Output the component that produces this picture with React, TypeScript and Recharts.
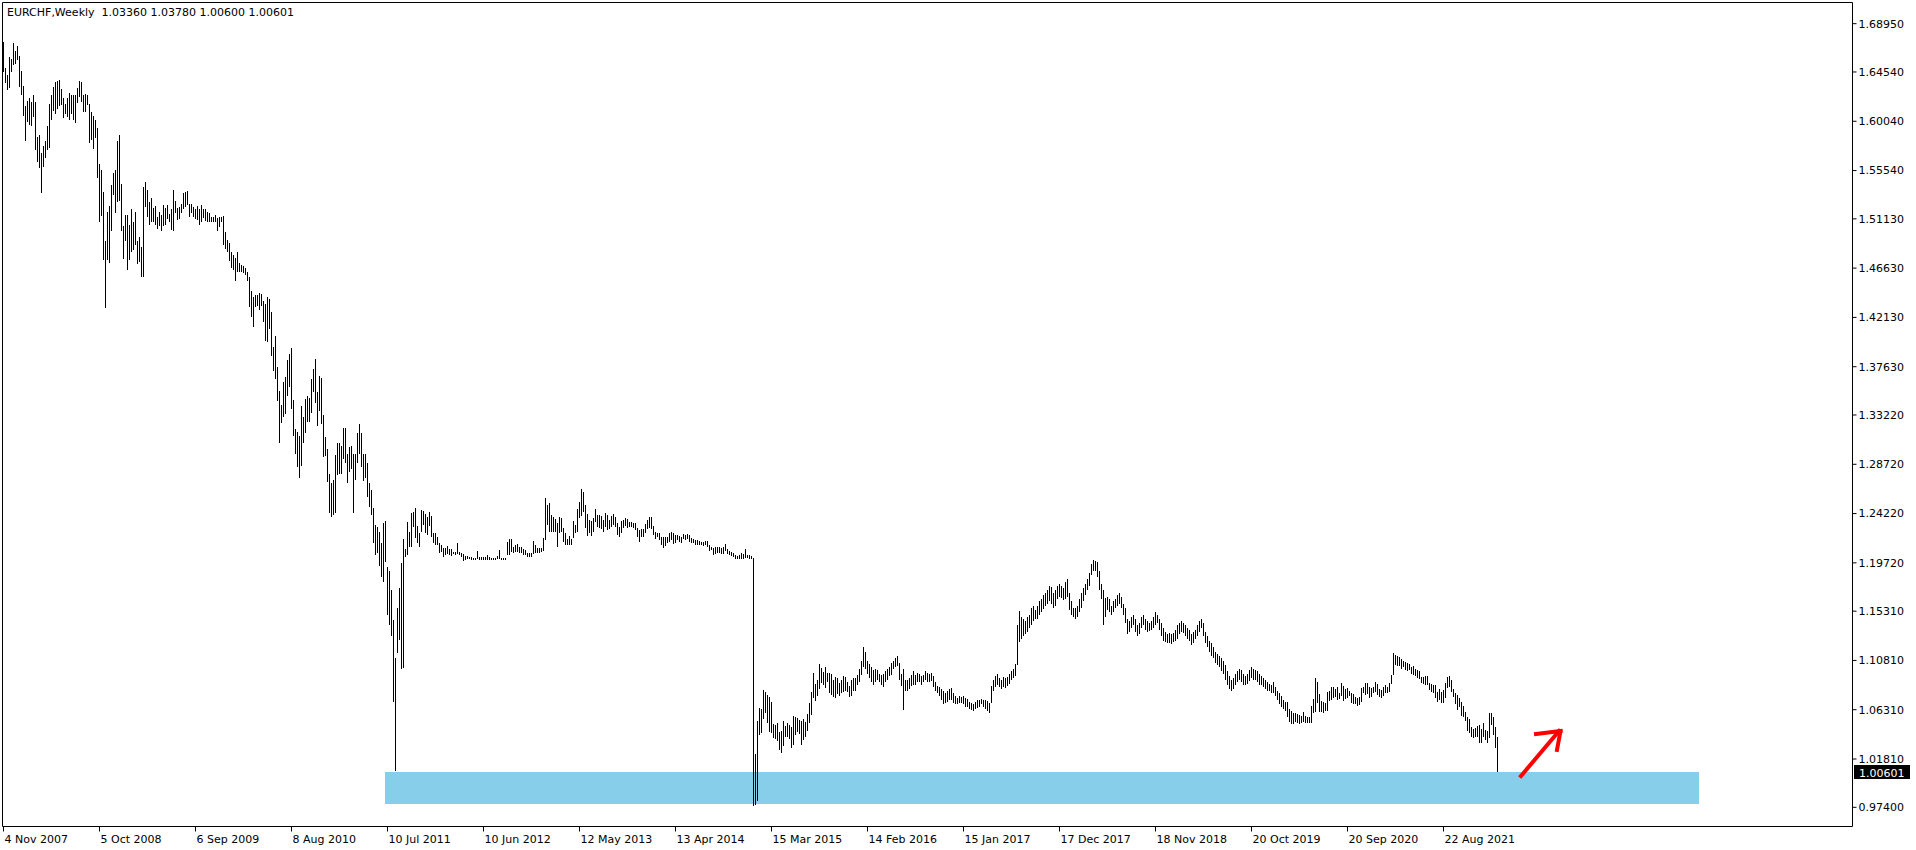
import React from "react";
import { ComposedChart, Bar, XAxis, YAxis, ReferenceArea, ReferenceLine } from "recharts";

document.body.style.margin = "0";

const FONT = "DejaVu Sans";
const W = 1916;
const H = 850;

// weekly bars as [high, low]; one array per calendar year (MT4 weeks open on Sunday)
const bars2007 = [[1.673,1.645],[1.649,1.635],[1.643,1.629],[1.659,1.631],[1.657,1.645],[1.672,1.652],[1.665,1.653],[1.669,1.656],[1.660,1.632]];
const bars2008 = [[1.646,1.624],[1.633,1.605],[1.614,1.582],[1.619,1.600],[1.622,1.597],[1.618,1.596],[1.624,1.604],[1.618,1.574],[1.586,1.563],[1.588,1.558],[1.571,1.535],[1.578,1.559],[1.582,1.567],[1.596,1.574],[1.616,1.576],[1.624,1.602],[1.632,1.610],[1.636,1.607],[1.637,1.612],[1.638,1.614],[1.630,1.615],[1.622,1.603],[1.616,1.607],[1.622,1.604],[1.626,1.602],[1.624,1.607],[1.624,1.602],[1.624,1.599],[1.631,1.617],[1.637,1.623],[1.636,1.618],[1.624,1.609],[1.625,1.609],[1.624,1.615],[1.616,1.581],[1.609,1.583],[1.605,1.575],[1.602,1.585],[1.594,1.549],[1.561,1.508],[1.556,1.514],[1.536,1.474],[1.491,1.430],[1.518,1.474],[1.523,1.471],[1.542,1.500],[1.553,1.533],[1.556,1.517],[1.582,1.527],[1.588,1.528],[1.543,1.500],[1.505,1.475]];
const bars2009 = [[1.515,1.491],[1.515,1.465],[1.506,1.474],[1.520,1.481],[1.508,1.483],[1.518,1.487],[1.491,1.470],[1.495,1.472],[1.486,1.458],[1.540,1.458],[1.545,1.522],[1.538,1.513],[1.527,1.506],[1.530,1.508],[1.521,1.508],[1.523,1.506],[1.513,1.502],[1.518,1.505],[1.515,1.500],[1.524,1.505],[1.521,1.506],[1.524,1.511],[1.516,1.508],[1.520,1.501],[1.538,1.500],[1.528,1.517],[1.521,1.510],[1.522,1.511],[1.525,1.517],[1.535,1.520],[1.536,1.522],[1.537,1.524],[1.525,1.513],[1.525,1.517],[1.522,1.513],[1.520,1.511],[1.523,1.510],[1.520,1.506],[1.524,1.508],[1.520,1.512],[1.520,1.509],[1.518,1.508],[1.517,1.508],[1.513,1.508],[1.513,1.508],[1.515,1.508],[1.512,1.500],[1.513,1.504],[1.513,1.508],[1.514,1.487],[1.499,1.484],[1.492,1.481]];
const bars2010 = [[1.489,1.473],[1.481,1.466],[1.478,1.465],[1.476,1.455],[1.481,1.463],[1.471,1.463],[1.469,1.463],[1.468,1.462],[1.466,1.460],[1.463,1.455],[1.458,1.431],[1.445,1.422],[1.440,1.413],[1.442,1.431],[1.442,1.432],[1.444,1.428],[1.443,1.432],[1.436,1.417],[1.434,1.400],[1.440,1.399],[1.438,1.411],[1.426,1.386],[1.394,1.372],[1.404,1.365],[1.376,1.345],[1.354,1.307],[1.341,1.325],[1.362,1.330],[1.367,1.333],[1.382,1.350],[1.388,1.358],[1.393,1.338],[1.346,1.313],[1.319,1.297],[1.317,1.285],[1.313,1.275],[1.340,1.286],[1.330,1.307],[1.347,1.316],[1.350,1.326],[1.348,1.326],[1.365,1.334],[1.374,1.353],[1.383,1.343],[1.353,1.322],[1.368,1.336],[1.366,1.324],[1.332,1.294],[1.312,1.295],[1.301,1.271],[1.278,1.243],[1.270,1.239]];
const bars2011 = [[1.273,1.241],[1.296,1.243],[1.307,1.277],[1.307,1.278],[1.304,1.278],[1.320,1.292],[1.320,1.288],[1.297,1.270],[1.303,1.280],[1.304,1.283],[1.297,1.243],[1.297,1.273],[1.316,1.288],[1.324,1.297],[1.316,1.285],[1.297,1.272],[1.297,1.275],[1.288,1.257],[1.270,1.248],[1.264,1.241],[1.247,1.215],[1.232,1.204],[1.230,1.206],[1.225,1.194],[1.215,1.184],[1.234,1.180],[1.235,1.198],[1.193,1.150],[1.190,1.140],[1.172,1.130],[1.145,1.070],[1.110,1.0075],[1.156,1.115],[1.174,1.127],[1.197,1.100],[1.219,1.101],[1.2096,1.2023],[1.2345,1.2044],[1.2254,1.2120],[1.2424,1.2120],[1.2440,1.2303],[1.2470,1.2196],[1.2309,1.2157],[1.2248,1.2120],[1.2455,1.2257],[1.2449,1.2318],[1.2418,1.2242],[1.2394,1.2227],[1.2440,1.2309],[1.2400,1.2206],[1.2248,1.2151],[1.2242,1.2136]];
const bars2012 = [[1.2206,1.2136],[1.2157,1.2060],[1.2136,1.2075],[1.2111,1.2029],[1.2105,1.2044],[1.2126,1.2053],[1.2102,1.2044],[1.2102,1.2035],[1.2075,1.2053],[1.2075,1.2044],[1.2157,1.2053],[1.2075,1.2044],[1.2066,1.2029],[1.2053,1.1993],[1.2035,1.1999],[1.2035,1.2005],[1.2029,1.2005],[1.2023,1.1999],[1.2020,1.1999],[1.2020,1.1999],[1.2081,1.2005],[1.2029,1.1999],[1.2023,1.1999],[1.2029,1.1999],[1.2023,1.1999],[1.2044,1.1999],[1.2023,1.1999],[1.2014,1.1999],[1.2014,1.1999],[1.2014,1.1999],[1.2035,1.2005],[1.2090,1.2005],[1.2017,1.1999],[1.2017,1.1999],[1.2017,1.1999],[1.2166,1.2044],[1.2187,1.2044],[1.2190,1.2075],[1.2120,1.2066],[1.2136,1.2075],[1.2145,1.2075],[1.2114,1.2066],[1.2114,1.2066],[1.2096,1.2044],[1.2090,1.2044],[1.2066,1.2029],[1.2066,1.2029],[1.2066,1.2029],[1.2172,1.2050],[1.2136,1.2066],[1.2105,1.2066],[1.2105,1.2066],[1.2105,1.2075]];
const bars2013 = [[1.2196,1.2084],[1.2560,1.2181],[1.2500,1.2318],[1.2516,1.2257],[1.2409,1.2257],[1.2394,1.2257],[1.2370,1.2257],[1.2339,1.2114],[1.2388,1.2242],[1.2379,1.2257],[1.2288,1.2166],[1.2248,1.2136],[1.2187,1.2136],[1.2218,1.2136],[1.2187,1.2136],[1.2354,1.2196],[1.2318,1.2242],[1.2461,1.2257],[1.2531,1.2379],[1.2650,1.2400],[1.2620,1.2440],[1.2500,1.2288],[1.2418,1.2218],[1.2364,1.2242],[1.2358,1.2218],[1.2379,1.2257],[1.2461,1.2348],[1.2409,1.2303],[1.2409,1.2288],[1.2400,1.2279],[1.2364,1.2257],[1.2430,1.2297],[1.2409,1.2272],[1.2364,1.2279],[1.2400,1.2303],[1.2418,1.2318],[1.2394,1.2303],[1.2333,1.2227],[1.2297,1.2212],[1.2358,1.2248],[1.2364,1.2288],[1.2379,1.2309],[1.2370,1.2288],[1.2348,1.2303],[1.2348,1.2303],[1.2339,1.2288],[1.2333,1.2272],[1.2294,1.2206],[1.2272,1.2166],[1.2279,1.2212],[1.2279,1.2206],[1.2327,1.2242]];
const bars2014 = [[1.2364,1.2279],[1.2388,1.2288],[1.2388,1.2279],[1.2309,1.2227],[1.2257,1.2187],[1.2242,1.2206],[1.2242,1.2181],[1.2212,1.2136],[1.2206,1.2105],[1.2206,1.2126],[1.2206,1.2151],[1.2242,1.2166],[1.2257,1.2181],[1.2242,1.2145],[1.2227,1.2151],[1.2227,1.2181],[1.2218,1.2166],[1.2206,1.2157],[1.2236,1.2187],[1.2227,1.2181],[1.2236,1.2187],[1.2227,1.2166],[1.2196,1.2157],[1.2187,1.2151],[1.2181,1.2136],[1.2181,1.2136],[1.2175,1.2136],[1.2166,1.2136],[1.2166,1.2126],[1.2175,1.2136],[1.2175,1.2120],[1.2136,1.2084],[1.2120,1.2090],[1.2105,1.2044],[1.2114,1.2053],[1.2120,1.2066],[1.2120,1.2060],[1.2105,1.2053],[1.2114,1.2053],[1.2145,1.2084],[1.2096,1.2053],[1.2084,1.2044],[1.2075,1.2035],[1.2066,1.2029],[1.2044,1.2005],[1.2035,1.2005],[1.2044,1.2005],[1.2060,1.2005],[1.2053,1.2005],[1.2096,1.2014],[1.2044,1.2014],[1.2044,1.2005]];
const bars2015 = [[1.2035,1.2005],[1.2014,0.9749],[1.0228,0.9763],[1.0532,0.9794],[1.0645,1.0402],[1.0636,1.0417],[1.0812,1.0544],[1.0797,1.0599],[1.0766,1.0514],[1.0745,1.0423],[1.0706,1.0417],[1.0502,1.0371],[1.0493,1.0362],[1.0508,1.0341],[1.0432,1.0259],[1.0441,1.0234],[1.0532,1.0301],[1.0484,1.0386],[1.0514,1.0386],[1.0493,1.0362],[1.0472,1.0280],[1.0575,1.0310],[1.0563,1.0402],[1.0551,1.0423],[1.0538,1.0411],[1.0532,1.0310],[1.0545,1.0356],[1.0523,1.0386],[1.0593,1.0441],[1.0696,1.0514],[1.0797,1.0584],[1.0970,1.0736],[1.0867,1.0715],[1.0903,1.0757],[1.1049,1.0818],[1.1010,1.0879],[1.0979,1.0858],[1.1019,1.0827],[1.0970,1.0888],[1.0964,1.0782],[1.0958,1.0766],[1.0903,1.0751],[1.0934,1.0736],[1.0918,1.0776],[1.0879,1.0757],[1.0903,1.0782],[1.0940,1.0797],[1.0934,1.0806],[1.0888,1.0797],[1.0848,1.0751],[1.0900,1.0760],[1.0920,1.0800]];
const bars2016 = [[1.0920,1.0800],[1.0950,1.0860],[1.1000,1.0880],[1.1080,1.0950],[1.1200,1.1020],[1.1160,1.1000],[1.1080,1.0960],[1.1050,1.0920],[1.1020,1.0880],[1.0990,1.0860],[1.1000,1.0880],[1.0990,1.0900],[1.0960,1.0880],[1.0950,1.0860],[1.0960,1.0840],[1.0980,1.0880],[1.1000,1.0900],[1.1020,1.0940],[1.1060,1.0950],[1.1080,1.1000],[1.1100,1.1020],[1.1120,1.1030],[1.1060,1.0900],[1.0960,1.0850],[1.1000,1.0630],[1.0900,1.0800],[1.0900,1.0800],[1.0920,1.0820],[1.0950,1.0850],[1.0980,1.0860],[1.0950,1.0860],[1.0970,1.0880],[1.0960,1.0880],[1.0940,1.0860],[1.0950,1.0880],[1.0980,1.0900],[1.0970,1.0880],[1.0960,1.0880],[1.0970,1.0890],[1.0940,1.0840],[1.0880,1.0800],[1.0850,1.0780],[1.0840,1.0760],[1.0820,1.0720],[1.0800,1.0680],[1.0780,1.0690],[1.0800,1.0700],[1.0820,1.0720],[1.0830,1.0720],[1.0780,1.0690],[1.0760,1.0680],[1.0740,1.0680]];
const bars2017 = [[1.0760,1.0690],[1.0750,1.0690],[1.0760,1.0680],[1.0740,1.0660],[1.0730,1.0660],[1.0700,1.0640],[1.0690,1.0630],[1.0680,1.0620],[1.0700,1.0640],[1.0720,1.0650],[1.0720,1.0660],[1.0730,1.0680],[1.0720,1.0660],[1.0720,1.0640],[1.0710,1.0620],[1.0690,1.0600],[1.0850,1.0690],[1.0900,1.0800],[1.0940,1.0840],[1.0960,1.0860],[1.0920,1.0840],[1.0900,1.0820],[1.0930,1.0840],[1.0920,1.0830],[1.0930,1.0850],[1.0960,1.0870],[1.0980,1.0900],[1.1000,1.0920],[1.1050,1.0940],[1.1400,1.1040],[1.1530,1.1250],[1.1480,1.1280],[1.1460,1.1300],[1.1440,1.1320],[1.1480,1.1340],[1.1500,1.1380],[1.1560,1.1400],[1.1580,1.1440],[1.1540,1.1460],[1.1580,1.1460],[1.1620,1.1500],[1.1640,1.1520],[1.1680,1.1550],[1.1700,1.1580],[1.1720,1.1600],[1.1760,1.1620],[1.1750,1.1600],[1.1700,1.1560],[1.1720,1.1580],[1.1760,1.1640],[1.1780,1.1660],[1.1760,1.1650],[1.1740,1.1630]];
const bars2018 = [[1.1800,1.1640],[1.1820,1.1660],[1.1700,1.1540],[1.1620,1.1500],[1.1560,1.1480],[1.1560,1.1460],[1.1580,1.1480],[1.1640,1.1520],[1.1700,1.1560],[1.1740,1.1620],[1.1780,1.1680],[1.1820,1.1720],[1.1880,1.1760],[1.1960,1.1860],[1.2000,1.1900],[1.1990,1.1900],[1.1980,1.1840],[1.1900,1.1720],[1.1780,1.1640],[1.1720,1.1400],[1.1650,1.1480],[1.1660,1.1540],[1.1640,1.1520],[1.1580,1.1500],[1.1620,1.1520],[1.1640,1.1560],[1.1680,1.1580],[1.1700,1.1600],[1.1660,1.1560],[1.1600,1.1500],[1.1560,1.1420],[1.1460,1.1320],[1.1440,1.1340],[1.1480,1.1380],[1.1500,1.1400],[1.1460,1.1340],[1.1400,1.1300],[1.1420,1.1320],[1.1480,1.1380],[1.1500,1.1400],[1.1460,1.1360],[1.1440,1.1340],[1.1420,1.1350],[1.1440,1.1360],[1.1480,1.1380],[1.1520,1.1400],[1.1500,1.1420],[1.1460,1.1360],[1.1420,1.1300],[1.1380,1.1260],[1.1340,1.1250],[1.1320,1.1240]];
const bars2019 = [[1.1330,1.1240],[1.1320,1.1230],[1.1330,1.1250],[1.1360,1.1260],[1.1400,1.1280],[1.1420,1.1320],[1.1440,1.1340],[1.1420,1.1330],[1.1400,1.1300],[1.1380,1.1280],[1.1360,1.1260],[1.1320,1.1220],[1.1340,1.1240],[1.1360,1.1280],[1.1400,1.1300],[1.1440,1.1340],[1.1460,1.1380],[1.1420,1.1300],[1.1340,1.1240],[1.1300,1.1200],[1.1260,1.1160],[1.1240,1.1120],[1.1200,1.1100],[1.1160,1.1060],[1.1140,1.1040],[1.1120,1.1020],[1.1100,1.0980],[1.1080,1.0960],[1.1040,1.0900],[1.0980,1.0860],[1.0940,1.0820],[1.0900,1.0800],[1.0920,1.0820],[1.0960,1.0860],[1.0980,1.0880],[1.1000,1.0900],[1.0990,1.0880],[1.0960,1.0860],[1.0940,1.0860],[1.0960,1.0870],[1.0990,1.0890],[1.1020,1.0920],[1.1000,1.0900],[1.0990,1.0900],[1.0980,1.0880],[1.0960,1.0860],[1.0940,1.0860],[1.0920,1.0840],[1.0900,1.0820],[1.0880,1.0800],[1.0870,1.0800],[1.0860,1.0780]];
const bars2020 = [[1.0880,1.0780],[1.0840,1.0760],[1.0800,1.0720],[1.0780,1.0680],[1.0760,1.0660],[1.0720,1.0640],[1.0700,1.0620],[1.0700,1.0560],[1.0640,1.0520],[1.0620,1.0500],[1.0600,1.0500],[1.0600,1.0520],[1.0590,1.0510],[1.0580,1.0500],[1.0575,1.0508],[1.0608,1.0523],[1.0575,1.0508],[1.0569,1.0508],[1.0563,1.0508],[1.0666,1.0508],[1.0727,1.0599],[1.0920,1.0614],[1.0880,1.0690],[1.0775,1.0614],[1.0715,1.0614],[1.0705,1.0605],[1.0690,1.0623],[1.0797,1.0623],[1.0803,1.0711],[1.0836,1.0721],[1.0842,1.0736],[1.0818,1.0745],[1.0842,1.0721],[1.0781,1.0727],[1.0879,1.0757],[1.0848,1.0715],[1.0818,1.0727],[1.0827,1.0736],[1.0806,1.0757],[1.0787,1.0696],[1.0775,1.0684],[1.0751,1.0684],[1.0736,1.0666],[1.0745,1.0675],[1.0827,1.0705],[1.0836,1.0781],[1.0873,1.0766],[1.0879,1.0775],[1.0842,1.0736],[1.0827,1.0751],[1.0842,1.0781],[1.0888,1.0797]];
const bars2021 = [[1.0867,1.0766],[1.0818,1.0745],[1.0812,1.0736],[1.0842,1.0757],[1.0857,1.0787],[1.0842,1.0787],[1.0873,1.0797],[1.0950,1.0867],[1.1150,1.0950],[1.1130,1.1040],[1.1120,1.1030],[1.1110,1.1030],[1.1090,1.1000],[1.1080,1.1020],[1.1070,1.0990],[1.1060,1.0980],[1.1050,1.0990],[1.1020,1.0960],[1.1030,1.0950],[1.1000,1.0940],[1.0990,1.0920],[1.0980,1.0910],[1.0930,1.0873],[1.0930,1.0867],[1.0935,1.0860],[1.0940,1.0857],[1.0873,1.0812],[1.0867,1.0797],[1.0857,1.0781],[1.0857,1.0736],[1.0797,1.0705],[1.0818,1.0721],[1.0797,1.0696],[1.0812,1.0696],[1.0873,1.0736],[1.0930,1.0827],[1.0940,1.0836],[1.0903,1.0797],[1.0818,1.0751],[1.0781,1.0684],[1.0766,1.0629],[1.0736,1.0660],[1.0705,1.0575],[1.0666,1.0569],[1.0614,1.0532],[1.0569,1.0441],[1.0544,1.0417],[1.0477,1.0380],[1.0453,1.0371],[1.0462,1.0380],[1.0483,1.0380],[1.0493,1.0325]];
const bars2022 = [[1.0453,1.0325],[1.0514,1.0380],[1.0447,1.0350],[1.0441,1.0325],[1.0605,1.0371],[1.0605,1.0493],[1.0563,1.0401],[1.0477,1.0280],[1.0378,1.0060]];

const HEADER = "EURCHF,Weekly  1.03360 1.03780 1.00600 1.00601";
const LAST_PRICE = 1.00601;

// one date label every 48 weeks, starting at the first bar
const DATE_LABELS = ["4 Nov 2007", "5 Oct 2008", "6 Sep 2009", "8 Aug 2010", "10 Jul 2011", "10 Jun 2012", "12 May 2013", "13 Apr 2014", "15 Mar 2015", "14 Feb 2016", "15 Jan 2017", "17 Dec 2017", "18 Nov 2018", "20 Oct 2019", "20 Sep 2020", "22 Aug 2021"];
const X_TICKS = DATE_LABELS.map((_, k) => k * 48);
const PRICE_TICKS = [1.6895, 1.6454, 1.6004, 1.5554, 1.5113, 1.4663, 1.4213, 1.3763, 1.3322, 1.2872, 1.2422, 1.1972, 1.1531, 1.1081, 1.0631, 1.0181, 0.974];

const Y_DOMAIN = [0.95647, 1.70884];
const X_DOMAIN = [-0.5, 924.5];

// drawn objects on the chart, in (bar index, price)
const ZONE = { x1: 190.75, x2: 847.75, y1: 0.97701, y2: 1.00623 };
const ARROW = [
  [{ x: 758.75, y: 1.00258 }, { x: 777.75, y: 1.04367 }],
  [{ x: 766.25, y: 1.04093 }, { x: 778.5, y: 1.04367 }],
  [{ x: 778.5, y: 1.04367 }, { x: 776.75, y: 1.02632 }],
];

const weeks = [
  bars2007, bars2008, bars2009, bars2010, bars2011, bars2012, bars2013, bars2014,
  bars2015, bars2016, bars2017, bars2018, bars2019, bars2020, bars2021, bars2022,
].flat().map(([high, low], i) => ({ i, range: [low, high] }));

function HLBar(props: any) {
  const { x, y, width, height } = props;
  if (x == null || y == null || height == null) return null;
  const cx = Math.floor(x + width / 2);
  const top = Math.round(Math.min(y, y + height));
  const bottom = Math.round(Math.max(y, y + height));
  return <rect x={cx} y={top} width={1} height={Math.max(1, bottom - top)} fill="#000" />;
}

function DateTick(props: any) {
  const { x, y, payload } = props;
  const k = X_TICKS.indexOf(payload.value);
  return (
    <text x={x + 1} y={y + 9.5} fill="#000" fontSize={11} fontFamily={FONT} textAnchor="start">
      {DATE_LABELS[k]}
    </text>
  );
}

function PriceTag(props: any) {
  const vb = props.viewBox;
  if (!vb) return null;
  const right = vb.x + vb.width;
  const yy = Math.round(vb.y);
  return (
    <g>
      <rect x={right + 1.5} y={yy - 7} width={56} height={14} fill="#000" />
      <text x={right + 6.5} y={yy + 4.5} fill="#fff" fontSize={11} fontFamily={FONT}>
        {LAST_PRICE.toFixed(5)}
      </text>
    </g>
  );
}

export default function App() {
  return (
    <div style={{ position: "relative", width: W, height: H, background: "#fff" }}>
      <ComposedChart
        width={W}
        height={H}
        data={weeks}
        margin={{ top: 0.5, right: 0.5, bottom: 0.5, left: 0.5 }}
      >
        <XAxis
          xAxisId="x"
          dataKey="i"
          type="number"
          domain={X_DOMAIN}
          allowDataOverflow
          ticks={X_TICKS}
          interval={0}
          height={23}
          tickSize={5}
          tick={<DateTick />}
          axisLine={{ stroke: "#000" }}
          tickLine={{ stroke: "#000" }}
        />
        <XAxis xAxisId="top" orientation="top" type="number" domain={[0, 1]} height={2} tick={false} tickLine={false} axisLine={{ stroke: "#000" }} />
        <YAxis yAxisId="left" orientation="left" type="number" domain={[0, 1]} width={2} tick={false} tickLine={false} axisLine={{ stroke: "#000" }} />
        <YAxis
          yAxisId="p"
          orientation="right"
          type="number"
          domain={Y_DOMAIN}
          allowDataOverflow
          ticks={PRICE_TICKS}
          interval={0}
          width={63}
          tickSize={4}
          tickMargin={2}
          tickFormatter={(v: number) => v.toFixed(5)}
          tick={{ fill: "#000", fontSize: 11, fontFamily: FONT }}
          axisLine={{ stroke: "#000" }}
          tickLine={{ stroke: "#000" }}
        />
        <ReferenceArea
          xAxisId="x"
          yAxisId="p"
          x1={ZONE.x1}
          x2={ZONE.x2}
          y1={ZONE.y1}
          y2={ZONE.y2}
          fill="#87CEEB"
          fillOpacity={1}
          stroke="none"
          ifOverflow="visible"
        />
        <Bar
          xAxisId="x"
          yAxisId="p"
          dataKey="range"
          barSize={1}
          shape={<HLBar />}
          isAnimationActive={false}
        />
        {ARROW.map((seg, k) => (
          <ReferenceLine
            key={k}
            xAxisId="x"
            yAxisId="p"
            segment={seg}
            stroke="#FF0000"
            strokeWidth={4}
            strokeLinecap="square"
            ifOverflow="visible"
          />
        ))}
        <ReferenceLine xAxisId="x" yAxisId="p" y={LAST_PRICE} stroke="none" label={<PriceTag />} ifOverflow="visible" />
      </ComposedChart>
      <div
        style={{
          position: "absolute",
          left: 7,
          top: 6,
          fontFamily: FONT,
          fontSize: 11,
          lineHeight: "13px",
          whiteSpace: "pre",
          color: "#000",
        }}
      >
        {HEADER}
      </div>
    </div>
  );
}
